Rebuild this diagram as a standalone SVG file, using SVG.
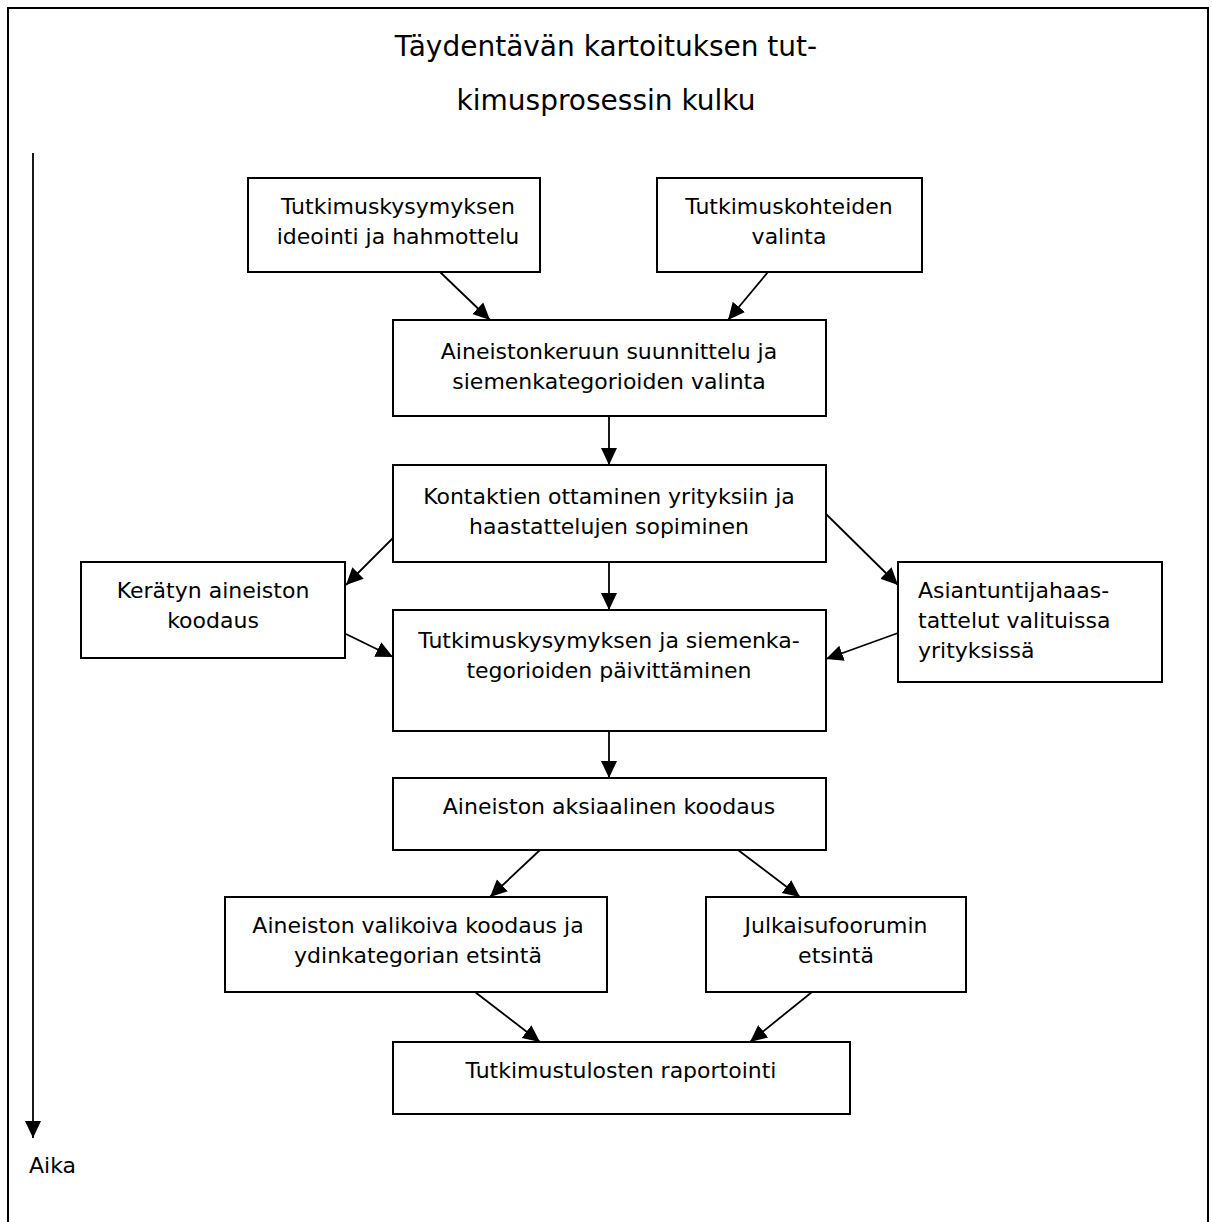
<svg xmlns="http://www.w3.org/2000/svg" width="1212" height="1222" viewBox="0 0 1212 1222">
  <style>
    .box { fill: #fff; stroke: #000; stroke-width: 2; }
    .lbl { font-family: "DejaVu Sans", Verdana, sans-serif; font-size: 22px; fill: #000; text-anchor: middle; }
    .left { text-anchor: start; }
    .title { font-family: "DejaVu Sans", Verdana, sans-serif; font-size: 28px; fill: #000; text-anchor: middle; }
    .edge { stroke: #000; stroke-width: 1.8; fill: none; marker-end: url(#arrow); }
  </style>
  <defs>
    <marker id="arrow" markerUnits="userSpaceOnUse" markerWidth="18" markerHeight="18" viewBox="0 0 18 18" refX="17" refY="9" orient="auto">
      <path d="M0,1 L17,9 L0,17 Z" fill="#000"/>
    </marker>
  </defs>
  <rect width="1212" height="1222" fill="#fff"/>

  <!-- outer frame, open at the bottom -->
  <path d="M8,1222 L8,8 L1208,8 L1208,1222" fill="none" stroke="#000" stroke-width="2"/>

  <!-- title -->
  <g id="title">
    <text class="title" x="606" y="56">Täydentävän kartoituksen tut-</text>
    <text class="title" x="606" y="110">kimusprosessin kulku</text>
  </g>

  <!-- time axis -->
  <g id="time-axis">
    <line class="edge" x1="33" y1="153" x2="33" y2="1138"/>
    <text class="lbl left" x="29" y="1173">Aika</text>
  </g>

  <g id="n-ideointi">
    <rect class="box" x="248" y="178" width="292" height="94"/>
    <text class="lbl" x="398" y="214">Tutkimuskysymyksen</text>
    <text class="lbl" x="398" y="244">ideointi ja hahmottelu</text>
  </g>

  <g id="n-kohteet">
    <rect class="box" x="657" y="178" width="265" height="94"/>
    <text class="lbl" x="789" y="214">Tutkimuskohteiden</text>
    <text class="lbl" x="789" y="244">valinta</text>
  </g>

  <g id="n-suunnittelu">
    <rect class="box" x="393" y="320" width="433" height="96"/>
    <text class="lbl" x="609" y="359">Aineistonkeruun suunnittelu ja</text>
    <text class="lbl" x="609" y="389">siemenkategorioiden valinta</text>
  </g>

  <g id="n-kontaktit">
    <rect class="box" x="393" y="465" width="433" height="97"/>
    <text class="lbl" x="609" y="504">Kontaktien ottaminen yrityksiin ja</text>
    <text class="lbl" x="609" y="534">haastattelujen sopiminen</text>
  </g>

  <g id="n-koodaus">
    <rect class="box" x="81" y="562" width="264" height="96"/>
    <text class="lbl" x="213" y="598">Kerätyn aineiston</text>
    <text class="lbl" x="213" y="628">koodaus</text>
  </g>

  <g id="n-paivitys">
    <rect class="box" x="393" y="610" width="433" height="121"/>
    <text class="lbl" x="609" y="648">Tutkimuskysymyksen ja siemenka-</text>
    <text class="lbl" x="609" y="678">tegorioiden päivittäminen</text>
  </g>

  <g id="n-haastattelut">
    <rect class="box" x="898" y="562" width="264" height="120"/>
    <text class="lbl left" x="918" y="598">Asiantuntijahaas-</text>
    <text class="lbl left" x="918" y="628">tattelut valituissa</text>
    <text class="lbl left" x="918" y="658">yrityksissä</text>
  </g>

  <g id="n-aksiaalinen">
    <rect class="box" x="393" y="778" width="433" height="72"/>
    <text class="lbl" x="609" y="814">Aineiston aksiaalinen koodaus</text>
  </g>

  <g id="n-valikoiva">
    <rect class="box" x="225" y="897" width="382" height="95"/>
    <text class="lbl" x="418" y="933">Aineiston valikoiva koodaus ja</text>
    <text class="lbl" x="418" y="963">ydinkategorian etsintä</text>
  </g>

  <g id="n-julkaisu">
    <rect class="box" x="706" y="897" width="260" height="95"/>
    <text class="lbl" x="836" y="933">Julkaisufoorumin</text>
    <text class="lbl" x="836" y="963">etsintä</text>
  </g>

  <g id="n-raportointi">
    <rect class="box" x="393" y="1042" width="457" height="72"/>
    <text class="lbl" x="621" y="1078">Tutkimustulosten raportointi</text>
  </g>

  <g id="connectors">
    <line class="edge" x1="440" y1="272" x2="490" y2="320"/>
    <line class="edge" x1="768" y1="272" x2="728" y2="320"/>
    <line class="edge" x1="609" y1="416" x2="609" y2="465"/>
    <line class="edge" x1="393" y1="538" x2="346" y2="585"/>
    <line class="edge" x1="609" y1="562" x2="609" y2="610"/>
    <line class="edge" x1="826" y1="514" x2="898" y2="585"/>
    <line class="edge" x1="346" y1="634" x2="393" y2="657"/>
    <line class="edge" x1="898" y1="633" x2="826" y2="659"/>
    <line class="edge" x1="609" y1="731" x2="609" y2="778"/>
    <line class="edge" x1="540" y1="850" x2="490" y2="897"/>
    <line class="edge" x1="738" y1="850" x2="800" y2="897"/>
    <line class="edge" x1="475" y1="992" x2="540" y2="1042"/>
    <line class="edge" x1="812" y1="992" x2="750" y2="1042"/>
  </g>
</svg>
